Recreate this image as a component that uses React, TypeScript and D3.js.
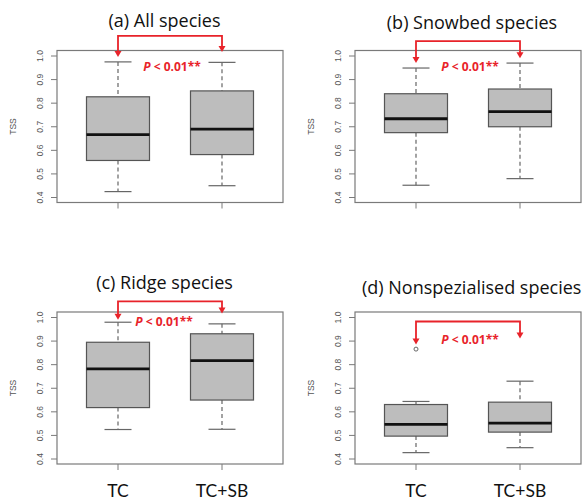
import React from "react";
import * as d3 from "d3";

const titles = ["(a) All species", "(b) Snowbed species", "(c) Ridge species", "(d) Nonspezialised species"];
const categories = ["TC", "TC+SB"];
const yTicks = [0.4, 0.5, 0.6, 0.7, 0.8, 0.9, 1.0];

const whiskerLow = [[0.425, 0.45], [0.452, 0.48], [0.525, 0.526], [0.427, 0.448]];
const q1 = [[0.557, 0.582], [0.675, 0.70], [0.618, 0.65], [0.497, 0.514]];
const medians = [[0.667, 0.69], [0.734, 0.764], [0.782, 0.817], [0.547, 0.552]];
const q3 = [[0.827, 0.852], [0.84, 0.86], [0.895, 0.931], [0.631, 0.641]];
const whiskerHigh = [[0.975, 0.973], [0.949, 0.97], [0.98, 0.973], [0.644, 0.73]];
const outliers = [[[], []], [[], []], [[], []], [[0.866], []]];

// significance brackets (in data units)
const bracketTop = [1.085, 1.063, 1.068, 0.983];
const arrowEndTC = [0.996, 0.97, 0.99, 0.886];
const arrowEndSB = [1.017, 0.99, 1.017, 0.911];
const pLabelY = [0.937, 0.937, 0.962, 0.886];
const pLabel = "< 0.01**";

const W = 583;
const H = 502;
const colLeft = [57, 355];
const rowTop = [50.5, 312];
const frameW = 226;
const frameH = 152;
const titleX = [164.5, 472];
const titleY = [[27, 28.5], [289, 294]];

const RED = "#e8232a";
const font = "'Open Sans', Lato, sans-serif";
const labelFont = "Lato, 'Open Sans', sans-serif";
const axisFont = "'Liberation Sans', Arial, sans-serif";

function Panel({ idx }: { idx: number }) {
  const col = idx % 2;
  const row = Math.floor(idx / 2);
  const left = colLeft[col];
  const top = rowTop[row];
  const bottom = top + frameH;
  const y = d3.scaleLinear().domain([0.4, 1.0]).range([bottom - 5, top + 5.5]);
  const x = d3.scalePoint<string>().domain(categories).range([left + 61, left + 165]);
  const boxW = 63;
  const capW = 27;
  const xTC = x("TC")!;
  const xSB = x("TC+SB")!;
  const midX = (xTC + xSB) / 2;

  return (
    <g>
      <text
        x={idx === 3 ? 362 : titleX[col]}
        y={titleY[row][col]}
        textAnchor={idx === 3 ? "start" : "middle"}
        fontFamily={font}
        fontSize={18}
        fill="#111"
      >
        {titles[idx]}
      </text>
      <rect x={left} y={top} width={frameW} height={frameH} fill="none" stroke="#7a7a7a" strokeWidth={1.2} />
      {yTicks.map((t) => (
        <g key={t}>
          <line x1={left - 6} x2={left} y1={y(t)} y2={y(t)} stroke="#7a7a7a" strokeWidth={1} />
          <text
            transform={`translate(${left - 14},${y(t)}) rotate(-90)`}
            textAnchor="middle"
            fontFamily={axisFont}
            fontSize={8.5}
            fill="#555"
          >
            {t.toFixed(1)}
          </text>
        </g>
      ))}
      <text
        transform={`translate(${left - 41},${(top + bottom) / 2}) rotate(-90)`}
        textAnchor="middle"
        fontFamily={axisFont}
        fontSize={8.5}
        fill="#555"
      >
        TSS
      </text>
      {categories.map((c) => (
        <line key={c} x1={x(c)!} x2={x(c)!} y1={bottom} y2={bottom + 6} stroke="#7a7a7a" strokeWidth={1} />
      ))}
      {row === 1 &&
        categories.map((c) => (
          <text key={c} x={x(c)!} y={497} textAnchor="middle" fontFamily={labelFont} fontSize={17.5} fill="#111">
            {c}
          </text>
        ))}
      {categories.map((c, j) => {
        const cx = x(c)!;
        return (
          <g key={c}>
            <line x1={cx} x2={cx} y1={y(whiskerHigh[idx][j])} y2={y(q3[idx][j])} stroke="#666" strokeWidth={1.2} strokeDasharray="4,3" />
            <line x1={cx} x2={cx} y1={y(q1[idx][j])} y2={y(whiskerLow[idx][j])} stroke="#666" strokeWidth={1.2} strokeDasharray="4,3" />
            <line x1={cx - capW / 2} x2={cx + capW / 2} y1={y(whiskerHigh[idx][j])} y2={y(whiskerHigh[idx][j])} stroke="#666" strokeWidth={1.2} />
            <line x1={cx - capW / 2} x2={cx + capW / 2} y1={y(whiskerLow[idx][j])} y2={y(whiskerLow[idx][j])} stroke="#666" strokeWidth={1.2} />
            <rect
              x={cx - boxW / 2}
              y={y(q3[idx][j])}
              width={boxW}
              height={y(q1[idx][j]) - y(q3[idx][j])}
              fill="#bdbdbd"
              stroke="#555"
              strokeWidth={1.2}
            />
            <line x1={cx - boxW / 2} x2={cx + boxW / 2} y1={y(medians[idx][j])} y2={y(medians[idx][j])} stroke="#111" strokeWidth={2.8} />
            {outliers[idx][j].map((o, k) => (
              <circle key={k} cx={cx} cy={y(o)} r={2} fill="none" stroke="#666" strokeWidth={1} />
            ))}
          </g>
        );
      })}
      <path
        d={`M${xTC},${y(arrowEndTC[idx]) - 5} L${xTC},${y(bracketTop[idx])} L${xSB},${y(bracketTop[idx])} L${xSB},${y(arrowEndSB[idx]) - 5}`}
        fill="none"
        stroke={RED}
        strokeWidth={1.8}
      />
      {[
        [xTC, arrowEndTC[idx]],
        [xSB, arrowEndSB[idx]],
      ].map(([ax, av], k) => (
        <path key={k} d={`M${ax - 3.5},${y(av) - 6} L${ax + 3.5},${y(av) - 6} L${ax},${y(av)} Z`} fill={RED} />
      ))}
      <text
        x={midX + (idx === 2 ? -6 : 2)}
        y={y(pLabelY[idx])}
        textAnchor="middle"
        fontFamily={font}
        fontWeight="bold"
        fontSize={12}
        fill={RED}
      >
        <tspan fontStyle="italic">P</tspan> {pLabel}
      </text>
    </g>
  );
}

export default function App() {
  return (
    <svg
      width={W}
      height={H}
      viewBox={`0 0 ${W} ${H}`}
      style={{ position: "absolute", left: 0, top: 0, background: "#fff" }}
    >
      <rect width={W} height={H} fill="#fff" />
      {titles.map((_, i) => (
        <Panel key={i} idx={i} />
      ))}
    </svg>
  );
}
